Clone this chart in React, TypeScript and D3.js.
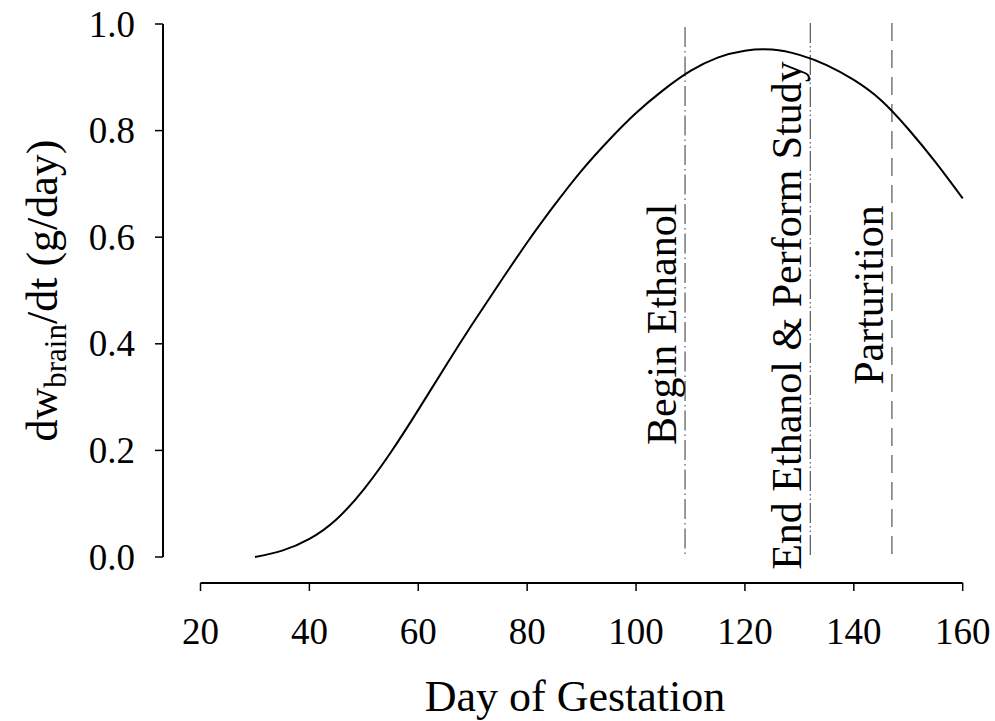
import React from "react";
import * as d3 from "d3";

const days = [30, 35, 40, 45, 50, 55, 60, 65, 70, 75, 80, 85, 90, 95, 100, 105, 110, 115, 120, 125, 130, 135, 140, 145, 150, 155, 160];
const rates = [0.0, 0.012, 0.034, 0.071, 0.127, 0.197, 0.276, 0.358, 0.438, 0.515, 0.59, 0.66, 0.725, 0.782, 0.833, 0.876, 0.912, 0.937, 0.95, 0.952, 0.942, 0.923, 0.895, 0.857, 0.803, 0.741, 0.673];

const xTicks = [20, 40, 60, 80, 100, 120, 140, 160];
const yTicks = [0, 0.2, 0.4, 0.6, 0.8, 1.0];

const markerDays = [109, 132, 147];
const markerLabels = ["Begin Ethanol", "End Ethanol & Perform Study", "Parturition"];
const markerLabelBase = [0.21, -0.024, 0.323];

const FS = { fontFamily: "'Liberation Serif'" };

export default function App() {
  const x = d3.scaleLinear().domain([20, 160]).range([200.5, 962.7]);
  const y = d3.scaleLinear().domain([0, 1]).range([557, 24]);
  const line = d3
    .line<number>()
    .x((_, i) => x(days[i]))
    .y((d) => y(d))
    .curve(d3.curveNatural);

  const dashes = ["20,4,1.5,4", "20,3,1.5,3,1.5,3", "18,9"];
  const lineTop = [27, 23, 23];

  return (
    <svg width={995} height={721} style={{ position: "absolute", left: 0, top: 0, background: "#fff" }}>
      {/* Y axis */}
      <line x1={163} x2={163} y1={y(1)} y2={y(0)} stroke="#000" strokeWidth={2} />
      {yTicks.map((t) => (
        <g key={t}>
          <line x1={155} x2={163} y1={y(t)} y2={y(t)} stroke="#000" strokeWidth={1.5} />
          <text x={135} y={y(t)} dy="0.34em" textAnchor="end" fontSize={37} style={FS}>
            {t.toFixed(1)}
          </text>
        </g>
      ))}
      {/* X axis */}
      <line x1={x(20)} x2={x(160)} y1={583} y2={583} stroke="#000" strokeWidth={2} />
      {xTicks.map((t) => (
        <g key={t}>
          <line x1={x(t)} x2={x(t)} y1={583} y2={591} stroke="#000" strokeWidth={1.5} />
          <text x={x(t)} y={644} textAnchor="middle" fontSize={37} style={FS}>
            {t}
          </text>
        </g>
      ))}
      {/* Axis titles */}
      <text x={575} y={711} textAnchor="middle" fontSize={44} style={FS}>
        Day of Gestation
      </text>
      <text
        transform={`translate(57,${(y(0) + y(1)) / 2}) rotate(-90)`}
        textAnchor="middle"
        fontSize={44}
        style={FS}
      >
        dw<tspan fontSize={31} dy={9} style={FS}>brain</tspan>
        <tspan dy={-9} style={FS}>/dt (g/day)</tspan>
      </text>
      {/* Marker lines */}
      {markerDays.map((d, i) => (
        <g key={d}>
          <line
            x1={x(d)}
            x2={x(d)}
            y1={lineTop[i]}
            y2={556}
            stroke="#333"
            strokeWidth={1}
            strokeDasharray={dashes[i]}
          />
          <text
            transform={`translate(${x(d) - 9},${y(markerLabelBase[i])}) rotate(-90)`}
            textAnchor="start"
            fontSize={42}
            style={FS}
          >
            {markerLabels[i]}
          </text>
        </g>
      ))}
      {/* Curve */}
      <path d={line(rates) || ""} fill="none" stroke="#000" strokeWidth={2} />
    </svg>
  );
}
